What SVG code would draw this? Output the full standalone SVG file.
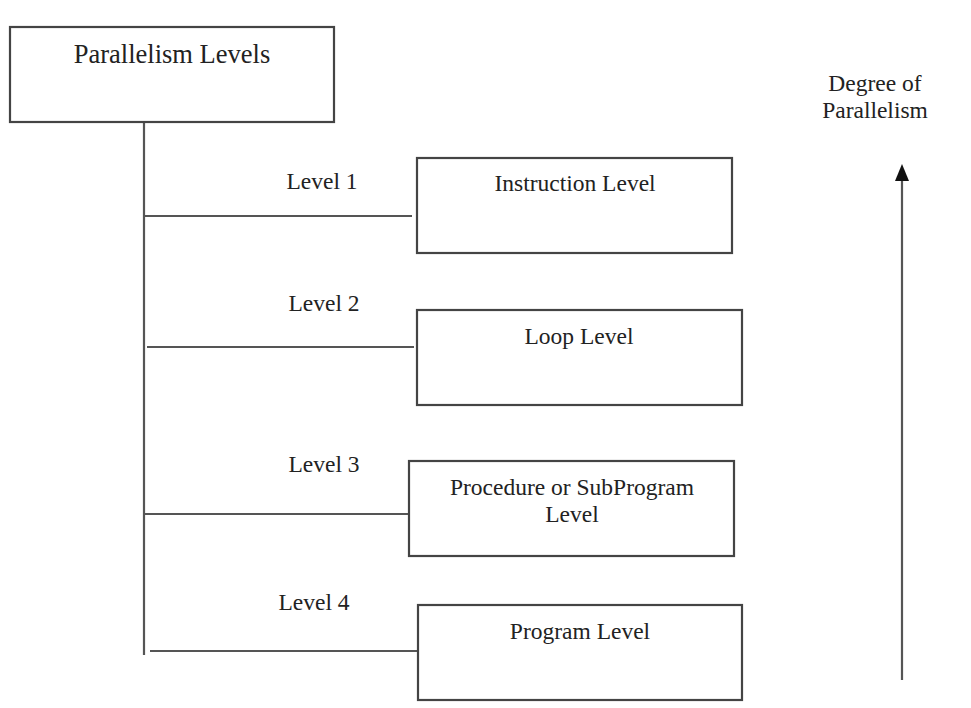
<svg xmlns="http://www.w3.org/2000/svg" width="971" height="708" viewBox="0 0 971 708">
<style>
.box{fill:#fff;stroke:#444;stroke-width:2.2}
.ln{stroke:#555;stroke-width:2.2;fill:none}
.t{font-family:'Liberation Serif','DejaVu Serif',serif;font-size:23.5px;fill:#222;text-anchor:middle}
.big{font-size:26.5px}
</style>
<rect width="971" height="708" fill="#fff"/>
<g id="connectors">
<line class="ln" x1="144" y1="120" x2="144" y2="655"/>
<line class="ln" x1="144" y1="216" x2="412" y2="216"/>
<line class="ln" x1="147" y1="347" x2="414" y2="347"/>
<line class="ln" x1="144" y1="514" x2="409" y2="514"/>
<line class="ln" x1="150" y1="651" x2="418" y2="651"/>
<text class="t" x="322" y="189">Level 1</text>
<text class="t" x="324" y="311">Level 2</text>
<text class="t" x="324" y="472">Level 3</text>
<text class="t" x="314" y="610">Level 4</text>
</g>
<g id="root">
<rect class="box" x="10" y="27" width="324" height="95"/>
<text class="t big" x="172" y="63">Parallelism Levels</text>
</g>
<g id="instruction">
<rect class="box" x="417" y="158" width="315" height="95"/>
<text class="t" x="575" y="191">Instruction Level</text>
</g>
<g id="loop">
<rect class="box" x="417" y="310" width="325" height="95"/>
<text class="t" x="579" y="344">Loop Level</text>
</g>
<g id="procedure">
<rect class="box" x="409" y="461" width="325" height="95"/>
<text class="t" x="572" y="495">Procedure or SubProgram</text>
<text class="t" x="572" y="522">Level</text>
</g>
<g id="program">
<rect class="box" x="418" y="605" width="324" height="95"/>
<text class="t" x="580" y="639">Program Level</text>
</g>
<g id="degree">
<text class="t" x="875" y="91">Degree of</text>
<text class="t" x="875" y="118">Parallelism</text>
<line class="ln" x1="902" y1="680" x2="902" y2="178"/>
<polygon points="902,164 895,181 909,181" fill="#111"/>
</g>
</svg>
